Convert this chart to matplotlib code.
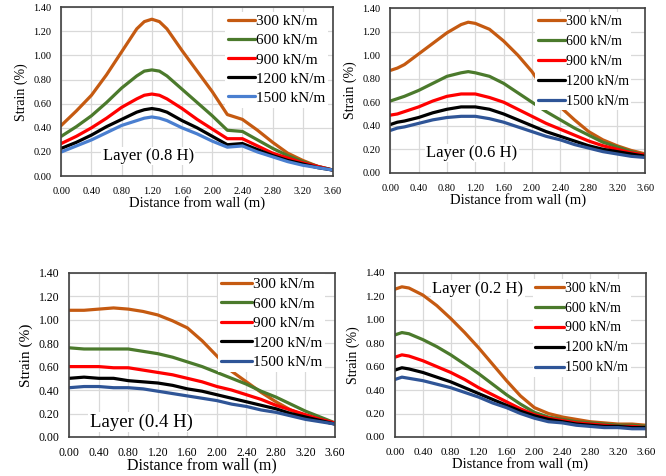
import matplotlib.pyplot as plt
import numpy as np

plt.rcParams['font.family'] = ['Liberation Serif', 'DejaVu Serif']

# series labels and colours
labels = ['300 kN/m', '600 kN/m', '900 kN/m', '1200 kN/m', '1500 kN/m']
colors = ['#C55A11', '#4B7A2C', '#FF0000', '#000000', '#2F5597']

xticks = [0.0, 0.4, 0.8, 1.2, 1.6, 2.0, 2.4, 2.8, 3.2, 3.6]
yticks = [0.0, 0.2, 0.4, 0.6, 0.8, 1.0, 1.2, 1.4]

# Layer (0.8 H)
x_08 = [0.0, 0.2, 0.4, 0.6, 0.8, 1.0, 1.1, 1.2, 1.3, 1.4, 1.6, 1.8, 2.0, 2.2, 2.4, 2.6, 2.8, 3.0, 3.2, 3.4, 3.6]
strain_08 = [
    [0.42, 0.54, 0.67, 0.84, 1.03, 1.22, 1.28, 1.30, 1.28, 1.22, 1.04, 0.87, 0.70, 0.51, 0.47, 0.38, 0.28, 0.19, 0.13, 0.08, 0.05],
    [0.33, 0.41, 0.50, 0.61, 0.73, 0.83, 0.87, 0.88, 0.87, 0.83, 0.72, 0.61, 0.50, 0.38, 0.37, 0.30, 0.23, 0.17, 0.12, 0.08, 0.05],
    [0.27, 0.33, 0.40, 0.48, 0.57, 0.64, 0.67, 0.68, 0.67, 0.64, 0.56, 0.47, 0.39, 0.31, 0.31, 0.25, 0.19, 0.15, 0.11, 0.08, 0.05],
    [0.23, 0.28, 0.34, 0.41, 0.47, 0.53, 0.55, 0.56, 0.55, 0.53, 0.46, 0.40, 0.33, 0.26, 0.27, 0.22, 0.17, 0.13, 0.10, 0.07, 0.05],
    [0.20, 0.25, 0.30, 0.36, 0.42, 0.46, 0.48, 0.49, 0.48, 0.46, 0.40, 0.35, 0.29, 0.24, 0.25, 0.20, 0.16, 0.12, 0.09, 0.07, 0.05],
]

# Layer (0.6 H)
x_06 = [0.0, 0.1, 0.2, 0.4, 0.6, 0.8, 1.0, 1.1, 1.2, 1.4, 1.6, 1.8, 2.0, 2.2, 2.4, 2.6, 2.8, 3.0, 3.2, 3.4, 3.6]
strain_06 = [
    [0.87, 0.89, 0.92, 1.01, 1.10, 1.19, 1.26, 1.28, 1.27, 1.22, 1.12, 1.00, 0.86, 0.68, 0.56, 0.45, 0.35, 0.28, 0.23, 0.19, 0.16],
    [0.61, 0.63, 0.65, 0.70, 0.76, 0.82, 0.85, 0.86, 0.85, 0.82, 0.76, 0.68, 0.60, 0.52, 0.45, 0.38, 0.32, 0.26, 0.22, 0.18, 0.15],
    [0.49, 0.50, 0.52, 0.56, 0.61, 0.65, 0.67, 0.67, 0.67, 0.64, 0.60, 0.54, 0.48, 0.42, 0.37, 0.32, 0.27, 0.23, 0.20, 0.17, 0.15],
    [0.41, 0.43, 0.44, 0.47, 0.51, 0.54, 0.56, 0.56, 0.56, 0.54, 0.50, 0.45, 0.40, 0.35, 0.31, 0.27, 0.23, 0.20, 0.18, 0.16, 0.14],
    [0.36, 0.38, 0.39, 0.42, 0.45, 0.47, 0.48, 0.48, 0.48, 0.46, 0.43, 0.39, 0.35, 0.31, 0.28, 0.24, 0.21, 0.18, 0.16, 0.14, 0.13],
]

# Layer (0.4 H)
x_04 = [0.0, 0.2, 0.4, 0.6, 0.8, 1.0, 1.2, 1.4, 1.6, 1.8, 2.0, 2.2, 2.4, 2.6, 2.8, 3.0, 3.2, 3.4, 3.6]
strain_04 = [
    [1.08, 1.08, 1.09, 1.10, 1.09, 1.07, 1.04, 0.99, 0.93, 0.82, 0.69, 0.56, 0.47, 0.38, 0.30, 0.23, 0.18, 0.14, 0.11],
    [0.76, 0.75, 0.75, 0.75, 0.75, 0.73, 0.71, 0.68, 0.64, 0.60, 0.55, 0.50, 0.45, 0.39, 0.34, 0.28, 0.22, 0.17, 0.12],
    [0.60, 0.60, 0.60, 0.59, 0.59, 0.57, 0.55, 0.53, 0.50, 0.47, 0.43, 0.40, 0.36, 0.32, 0.27, 0.23, 0.19, 0.15, 0.12],
    [0.50, 0.51, 0.50, 0.50, 0.48, 0.47, 0.46, 0.44, 0.41, 0.39, 0.36, 0.33, 0.30, 0.27, 0.24, 0.20, 0.17, 0.14, 0.11],
    [0.42, 0.43, 0.43, 0.42, 0.42, 0.41, 0.39, 0.37, 0.35, 0.33, 0.31, 0.28, 0.26, 0.23, 0.21, 0.18, 0.15, 0.13, 0.11],
]

# Layer (0.2 H)
x_02 = [0.0, 0.1, 0.2, 0.4, 0.6, 0.8, 1.0, 1.2, 1.4, 1.6, 1.8, 2.0, 2.2, 2.4, 2.6, 2.8, 3.0, 3.2, 3.4, 3.6]
strain_02 = [
    [1.26, 1.28, 1.27, 1.21, 1.12, 1.01, 0.89, 0.76, 0.62, 0.48, 0.35, 0.25, 0.20, 0.17, 0.15, 0.13, 0.12, 0.11, 0.11, 0.10],
    [0.87, 0.89, 0.88, 0.83, 0.77, 0.70, 0.62, 0.54, 0.45, 0.36, 0.28, 0.21, 0.17, 0.15, 0.13, 0.12, 0.11, 0.10, 0.10, 0.09],
    [0.68, 0.70, 0.69, 0.65, 0.60, 0.55, 0.49, 0.42, 0.36, 0.30, 0.24, 0.19, 0.16, 0.14, 0.12, 0.11, 0.10, 0.09, 0.09, 0.08],
    [0.57, 0.59, 0.58, 0.55, 0.51, 0.47, 0.42, 0.37, 0.32, 0.27, 0.22, 0.18, 0.15, 0.13, 0.11, 0.10, 0.09, 0.09, 0.08, 0.08],
    [0.49, 0.51, 0.50, 0.48, 0.45, 0.42, 0.38, 0.34, 0.29, 0.25, 0.20, 0.16, 0.13, 0.12, 0.10, 0.09, 0.08, 0.08, 0.07, 0.07],
]

fig = plt.figure(figsize=(6.66, 4.76), dpi=100)

# axes boxes [left, bottom, width, height] in figure fractions
boxes = [
    [0.092, 0.630, 0.408, 0.355],
    [0.586, 0.637, 0.383, 0.346],
    [0.104, 0.082, 0.399, 0.345],
    [0.593, 0.082, 0.377, 0.345],
]
panels = [(x_08, strain_08, 'Layer (0.8 H)', (0.32, 0.12)),
          (x_06, strain_06, 'Layer (0.6 H)', (0.32, 0.12)),
          (x_04, strain_04, 'Layer (0.4 H)', (0.27, 0.09)),
          (x_02, strain_02, 'Layer (0.2 H)', (0.33, 0.90))]
# per panel: legend anchor, legend size, label spacing, handle length, tick size, label size, title size
leg_anchor = [(0.982, 0.973), (0.945, 0.976), (0.962, 0.99), (0.940, 0.963)]
leg_size = [11, 10, 11, 10]
leg_space = [0.35, 0.5, 0.38, 0.5]
leg_handle = [1.75, 1.95, 2.0, 2.1]
tick_size = [7.5, 7.5, 8.5, 8]
lab_size = [10.5, 10.5, 11.5, 10.5]
ylab_size = [10, 10, 11, 10]
title_size = [12, 12, 13.5, 12]

for k, (x, data, title, tpos) in enumerate(panels):
    ax = fig.add_axes(boxes[k])
    for j in range(5):
        c = colors[j]
        if k == 0 and j == 4:
            c = '#4A7FD0'
        ax.plot(x, data[j], color=c, lw=2.3, label=labels[j], solid_capstyle='round')
    ax.set_xlim(0, 3.6)
    ax.set_ylim(0, 1.4)
    ax.set_xticks(xticks)
    ax.set_yticks(yticks)
    ax.set_xticklabels(['%.2f' % v for v in xticks], fontsize=tick_size[k])
    ax.set_yticklabels(['%.2f' % v for v in yticks], fontsize=tick_size[k])
    ax.tick_params(axis='x', length=0, pad=8 if k != 2 else 7)
    ax.tick_params(axis='y', length=0, pad=7)
    ax.grid(True, color='#D9D9D9', lw=0.9)
    ax.set_axisbelow(True)
    for s in ax.spines.values():
        s.set_color('#404040')
        s.set_linewidth(1.2)
    ax.set_xlabel('Distance from wall (m)', fontsize=lab_size[k], labelpad=0 if k != 2 else -1)
    ax.set_ylabel('Strain (%)', fontsize=ylab_size[k], labelpad=4)
    ax.text(tpos[0], tpos[1], title, transform=ax.transAxes, ha='center', va='center',
            fontsize=title_size[k], bbox=dict(facecolor='white', edgecolor='none', pad=1))
    leg = ax.legend(loc='upper right', bbox_to_anchor=leg_anchor[k], fontsize=leg_size[k],
                    handlelength=leg_handle[k], handletextpad=0.05, labelspacing=leg_space[k],
                    borderpad=0.2, borderaxespad=0, framealpha=1, fancybox=False)
    leg.get_frame().set_edgecolor('none')

fig.savefig('out.png', dpi=100)
